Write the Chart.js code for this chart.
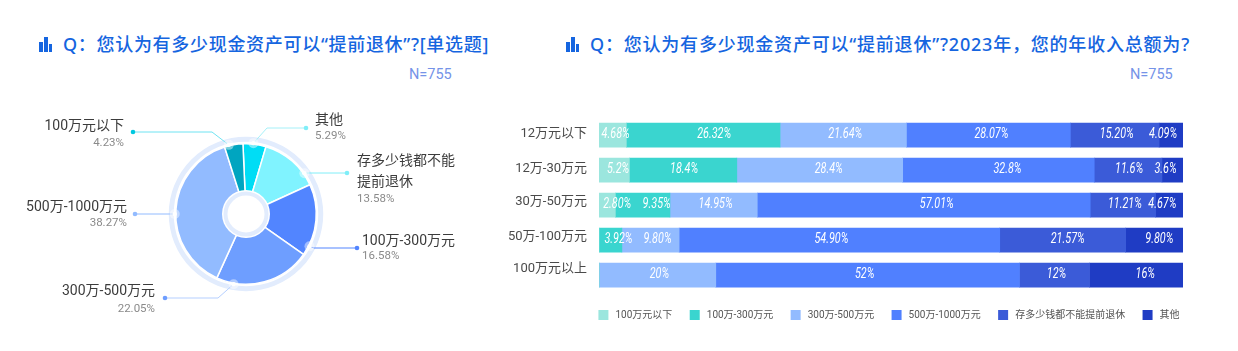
<!DOCTYPE html>
<html>
<head>
<meta charset="utf-8">
<script src="https://cdn.jsdelivr.net/npm/chart.js@4"></script>
<style>
  html, body { margin: 0; padding: 0; background: #fff; }
  #page { position: relative; width: 1238px; height: 351px; overflow: hidden; font-family: Roboto, "Noto Sans CJK SC", sans-serif; }
  canvas { position: absolute; }
  .title { position: absolute; top: 30px; font-family: "Noto Sans", "Noto Sans CJK SC", sans-serif; font-size: 18px; line-height: 28px; font-weight: 500; color: #1565e0; letter-spacing: 0.8px; white-space: nowrap; }
  .count { position: absolute; top: 66px; font-size: 14.5px; line-height: 18px; color: #7593e8; }
  .icon { position: absolute; top: 37px; width: 13px; height: 15px; }
  .icon i { position: absolute; bottom: 0; width: 3.5px; background: #1565e0; }
</style>
</head>
<body>
<div id="page">
  <div class="icon" style="left:39px"><i style="left:0;height:10px"></i><i style="left:5px;height:15px"></i><i style="left:9.7px;height:8px"></i></div>
  <div class="title" style="left:63px;letter-spacing:0.7px">Q：您认为有多少现金资产可以“提前退休”?[单选题]</div>
  <div class="count" style="left:409px">N=755</div>
  <div class="icon" style="left:566px"><i style="left:0;height:10px"></i><i style="left:5px;height:15px"></i><i style="left:9.7px;height:8px"></i></div>
  <div class="title" style="left:590px">Q：您认为有多少现金资产可以“提前退休”?2023年，您的年收入总额为?</div>
  <div class="count" style="left:1130px">N=755</div>
  <canvas id="pie-chart" width="492" height="240" style="left:0;top:94px"></canvas>
  <canvas id="bar-chart" width="690" height="230" style="left:500px;top:100px"></canvas>
</div>
<script>
// doughnut, clockwise from the top
const pieLabels = ["其他", "存多少钱都不能提前退休", "100万-300万元", "300万-500万元", "500万-1000万元", "100万元以下"];
const pieValues = [5.29, 13.58, 16.58, 22.05, 38.27, 4.23];

// stacked bars
const incomeGroups = ["12万元以下", "12万-30万元", "30万-50万元", "50万-100万元", "100万元以上"];
const seriesNames = ["100万元以下", "100万-300万元", "300万-500万元", "500万-1000万元", "存多少钱都不能提前退休", "其他"];
const under100 = [4.68, 5.2, 2.80, 0, 0];
const from100to300 = [26.32, 18.4, 9.35, 3.92, 0];
const from300to500 = [21.64, 28.4, 14.95, 9.80, 20];
const from500to1000 = [28.07, 32.8, 57.01, 54.90, 52];
const neverEnough = [15.20, 11.6, 11.21, 21.57, 12];
const otherAnswer = [4.09, 3.6, 4.67, 9.80, 16];
const rowDecimals = [2, 1, 2, 2, 0];

const pieColors = ["#00ddf5", "#80f3ff", "#5285ff", "#6e9eff", "#92bbff", "#00a5c0"];
const barColors = ["#9be6de", "#3ad5cf", "#92bbff", "#5080ff", "#3b5bd8", "#1f3cc4"];

// callout geometry, offsets from the doughnut centre
const callouts = [
  { angle: 6, elbow: [21, -86], end: [60, -86], textX: 69, align: "left", nameY: -94, pctY: -78, dot: "#80eef8", line: "#a5f0f8" },
  { angle: 55, elbow: [65, -41], end: [101, -41], textX: 111, align: "left", nameY: -53, pctY: -15, breakAt: 7, dot: "#80eef8", line: "#80eef8" },
  { angle: 117, elbow: [68, 34], end: [111, 34], textX: 116, align: "left", nameY: 27, pctY: 42, dot: "#5285ff", line: "#5285ff" },
  { angle: 190, elbow: [-28, 84], end: [-81, 84], textX: -91, align: "right", nameY: 77, pctY: 95, dot: "#6e9eff", line: "#b5cfff" },
  { angle: 270, elbow: [-75, 0], end: [-111, 0], textX: -119, align: "right", nameY: -7, pctY: 9, dot: "#92bbff", line: "#92bbff" },
  { angle: 346, elbow: [-34, -82], end: [-113, -82], textX: -122, align: "right", nameY: -88, pctY: -71, dot: "#00c8e0", line: "#6fe3f2" },
];

// the reference places its bar labels by hand, px off each segment centre
const labelNudge = [
  [3, 11, 2, 3, 2, -8],
  [4, 1, 9, 9, 1, -7],
  [10, 14, 2, 13, 2, -7],
  [0, 8, 7, -8, 5, 5],
  [0, 0, 2, -3, 2, 9],
];
// same for the row names, they drift up from the bars
const tickNudge = [-1, -1.5, -3, -3.5, -6];

const ringPlugin = {
  id: "ring",
  beforeDatasetsDraw(chart) {
    const arc = chart.getDatasetMeta(0).data[0];
    const ctx = chart.ctx;
    ctx.save();
    ctx.strokeStyle = "#e2ecfd";
    ctx.lineWidth = 5;
    ctx.beginPath();
    ctx.arc(arc.x, arc.y, arc.outerRadius + 4.5, 0, Math.PI * 2);
    ctx.stroke();
    ctx.restore();
  },
  afterDatasetsDraw(chart) {
    const arc = chart.getDatasetMeta(0).data[0];
    const ctx = chart.ctx;
    ctx.save();
    ctx.fillStyle = "#fff";
    ctx.beginPath();
    ctx.arc(arc.x, arc.y, 24, 0, Math.PI * 2);
    ctx.fill();
    ctx.strokeStyle = "#e2ecfd";
    ctx.lineWidth = 4;
    ctx.beginPath();
    ctx.arc(arc.x, arc.y, 20.5, 0, Math.PI * 2);
    ctx.stroke();

    callouts.forEach((c, i) => {
      const a = (c.angle - 90) * Math.PI / 180;
      const r = arc.outerRadius + 1;
      const sx = arc.x + Math.cos(a) * r;
      const sy = arc.y + Math.sin(a) * r;
      ctx.strokeStyle = c.line;
      ctx.lineWidth = 1;
      ctx.beginPath();
      ctx.moveTo(sx, sy);
      ctx.lineTo(arc.x + c.elbow[0], arc.y + c.elbow[1]);
      ctx.lineTo(arc.x + c.end[0], arc.y + c.end[1]);
      ctx.stroke();
      ctx.fillStyle = "rgba(255,255,255,0.45)";
      ctx.beginPath();
      ctx.arc(sx, sy, 5, 0, Math.PI * 2);
      ctx.fill();
      ctx.fillStyle = "#fff";
      ctx.beginPath();
      ctx.arc(sx, sy, 2.2, 0, Math.PI * 2);
      ctx.fill();
      ctx.fillStyle = c.dot;
      ctx.beginPath();
      ctx.arc(arc.x + c.end[0], arc.y + c.end[1], 2.3, 0, Math.PI * 2);
      ctx.fill();

      ctx.textAlign = c.align;
      ctx.textBaseline = "middle";
      ctx.fillStyle = "#3c3c3c";
      ctx.font = '14px Roboto, "Noto Sans CJK SC", sans-serif';
      const name = pieLabels[i];
      if (c.breakAt) {
        ctx.fillText(name.slice(0, c.breakAt), arc.x + c.textX, arc.y + c.nameY);
        ctx.fillText(name.slice(c.breakAt), arc.x + c.textX, arc.y + c.nameY + 21);
      } else {
        ctx.fillText(name, arc.x + c.textX, arc.y + c.nameY);
      }
      ctx.fillStyle = "#8a8a8a";
      ctx.font = '11.5px Roboto, "Noto Sans CJK SC", sans-serif';
      ctx.fillText(pieValues[i].toFixed(2) + "%", arc.x + c.textX, arc.y + c.pctY);
    });
    ctx.restore();
  },
};

new Chart(document.getElementById("pie-chart"), {
  type: "doughnut",
  data: {
    labels: pieLabels,
    datasets: [{ data: pieValues, backgroundColor: pieColors, borderColor: "#fff", borderWidth: 1.5 }],
  },
  options: {
    responsive: false,
    animation: false,
    rotation: -2.5,
    cutout: "30%",
    layout: { padding: { left: 175, right: 175, top: 49, bottom: 49 } },
    plugins: { legend: { display: false }, tooltip: { enabled: false } },
  },
  plugins: [ringPlugin],
});

const barLabelPlugin = {
  id: "barLabels",
  afterLayout(chart) {
    // legend sits a bit further right than align:end puts it
    chart.legend.left += 14;
    chart.legend.right += 14;
  },
  beforeDraw(chart) {
    chart.scales.y.getLabelItems().forEach((item, i) => {
      item.options.translation[1] += tickNudge[i];
    });
  },
  afterDatasetsDraw(chart) {
    const ctx = chart.ctx;
    ctx.fillStyle = "#fff";
    ctx.font = 'italic 15px Roboto, sans-serif';
    ctx.textAlign = "center";
    ctx.textBaseline = "middle";
    chart.data.datasets.forEach((ds, d) => {
      chart.getDatasetMeta(d).data.forEach((bar, r) => {
        if (!ds.data[r]) return;
        const mid = (bar.x + bar.base) / 2;
        // the reference uses a condensed italic, no such font here
        ctx.save();
        ctx.translate(mid + labelNudge[r][d], bar.y - 1);
        ctx.scale(0.72, 1);
        ctx.fillText(ds.data[r].toFixed(rowDecimals[r]) + "%", 0, 0);
        ctx.restore();
      });
    });
  },
};

const seriesValues = [under100, from100to300, from300to500, from500to1000, neverEnough, otherAnswer];

new Chart(document.getElementById("bar-chart"), {
  type: "bar",
  data: {
    labels: incomeGroups,
    datasets: seriesNames.map((name, i) => ({
      label: name,
      data: seriesValues[i],
      backgroundColor: barColors[i],
      barThickness: 24,
      borderWidth: 0,
    })),
  },
  options: {
    indexAxis: "y",
    responsive: false,
    animation: false,
    layout: { padding: { top: 17.6, right: 7, left: 0, bottom: 0 } },
    scales: {
      x: { stacked: true, min: 0, max: 100, display: false },
      y: {
        stacked: true,
        grid: { display: false },
        border: { display: false },
        afterFit: (scale) => { scale.width = 99; },
        ticks: { padding: 4, color: "#4a4a4a", font: { size: 13, family: 'Roboto, "Noto Sans CJK SC", sans-serif' } },
      },
    },
    plugins: {
      tooltip: { enabled: false },
      legend: {
        position: "bottom",
        align: "end",
        labels: {
          boxWidth: 10,
          boxHeight: 10,
          padding: 17.4,
          color: "#555",
          font: { size: 10, family: 'Roboto, "Noto Sans CJK SC", sans-serif' },
          generateLabels: (chart) =>
            Chart.defaults.plugins.legend.labels.generateLabels(chart).map((l) => ({ ...l, text: "\u2009" + l.text })),
        },
      },
    },
  },
  plugins: [barLabelPlugin],
});
</script>
</body>
</html>
